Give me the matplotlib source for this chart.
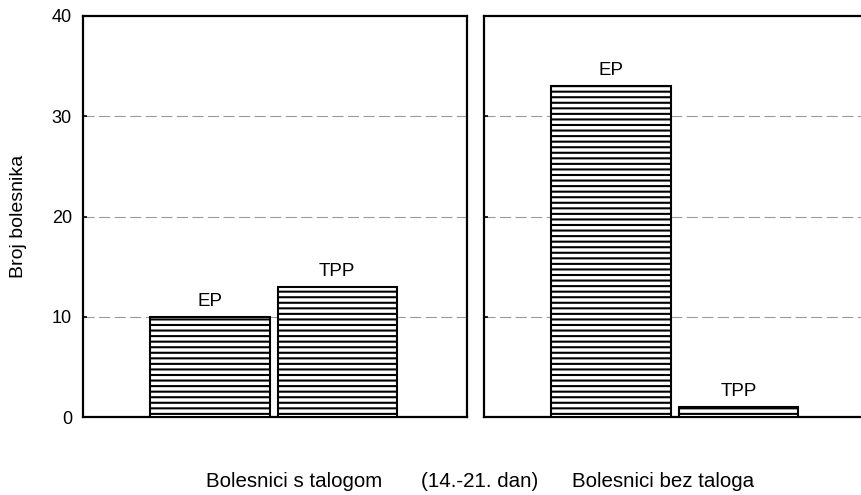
import matplotlib
matplotlib.use("Agg")
import matplotlib.pyplot as plt

# Data
groups = ["Bolesnici s talogom", "Bolesnici bez taloga"]
categories = ["EP", "TPP"]
values_s_talogom = [10, 13]
values_bez_taloga = [33, 1]
yticks = [0, 10, 20, 30, 40]
ylabel = "Broj bolesnika"
middle_label = "(14.-21. dan)"

plt.rcParams['font.family'] = ['Liberation Sans', 'DejaVu Sans']
plt.rcParams['hatch.linewidth'] = 1.5

W, H = 862, 495
fig = plt.figure(figsize=(W / 100, H / 100), dpi=100)

ax1 = fig.add_axes([83 / W, 78 / H, (467 - 83) / W, 401 / H])
ax2 = fig.add_axes([484 / W, 78 / H, (885 - 484) / W, 401 / H])

positions = [1, 2]
for ax, vals, xmax in [(ax1, values_s_talogom, 3.02), (ax2, values_bez_taloga, 3.15)]:
    ax.bar(positions, vals, width=0.94, color='white', edgecolor='black',
           hatch='---', linewidth=1.5, zorder=3)
    for p, v, c in zip(positions, vals, categories):
        ax.text(p, v + 1.1, c, ha='center', va='baseline', fontsize=13.5, zorder=4)
    ax.set_xlim(0, xmax)
    ax.set_ylim(0, 40)
    ax.set_yticks(yticks)
    ax.set_xticks([])
    for y in yticks[1:-1]:
        ax.axhline(y, color='#9a9a9a', linewidth=0.8, linestyle=(0, (10, 4)), zorder=1)
    for s in ax.spines.values():
        s.set_linewidth(1.6)
    ax.tick_params(axis='y', direction='in', length=3, width=1.2, labelsize=13, pad=8)

ax2.tick_params(axis='y', labelleft=False)
ax1.set_ylabel(ylabel, fontsize=14, labelpad=18)

base_y = 1 - 487 / H
fig.text(206 / W, base_y, groups[0], ha='left', va='baseline', fontsize=14.8)
fig.text(421 / W, base_y, middle_label, ha='left', va='baseline', fontsize=14.8)
fig.text(572 / W, base_y, groups[1], ha='left', va='baseline', fontsize=14.8)

fig.savefig("out.png", dpi=100)
